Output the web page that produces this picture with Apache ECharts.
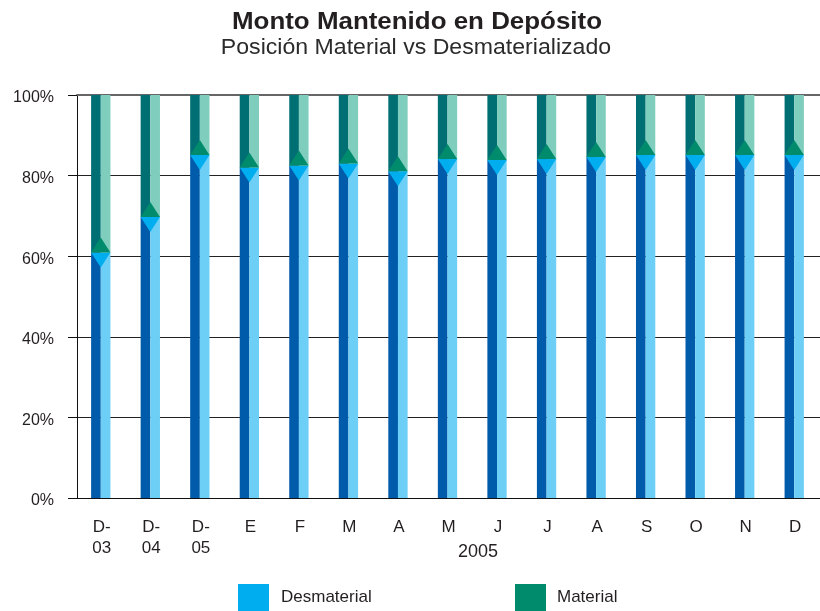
<!DOCTYPE html>
<html>
<head>
<meta charset="utf-8">
<script src="https://cdn.jsdelivr.net/npm/echarts@6/dist/echarts.min.js"></script>
<style>
 html,body{margin:0;padding:0;background:#fff;}
 #main{width:820px;height:611px;}
</style>
</head>
<body>
<div id="main"></div>
<script>
var categories = ['D-\n03', 'D-\n04', 'D-\n05', 'E', 'F', 'M', 'A', 'M', 'J', 'J', 'A', 'S', 'O', 'N', 'D'];
var desmaterial = [60.9, 69.7, 85.1, 82.0, 82.5, 83.0, 81.1, 84.1, 83.9, 84.1, 84.6, 85.1, 85.1, 85.1, 85.1];
var material = [39.1, 30.3, 14.9, 18.0, 17.5, 17.0, 18.9, 15.9, 16.1, 15.9, 15.4, 14.9, 14.9, 14.9, 14.9];
var yTicks = [0, 20, 40, 60, 80, 100];

var FONT = 'Liberation Sans, Arial, sans-serif';

// bloque 3D: mitad oscura, mitad clara y triangulo en la union
var makeRender = function (dark, light, tri, triUp) {
    return function (params, api) {
        var idx = api.value(0);
        var pLo = api.coord([idx, api.value(1)]);
        var pHi = api.coord([idx, api.value(2)]);
        var w = api.size([1, 0])[0] * 0.39;
        var cx = pLo[0] - 1;
        var h = 15;
        var yb = triUp ? pLo[1] : pHi[1];
        var tip = triUp ? yb - h : yb + h;
        return {
            type: 'group',
            children: [
                { type: 'rect', shape: { x: cx - w / 2, y: pHi[1], width: w / 2, height: pLo[1] - pHi[1] }, style: { fill: dark } },
                { type: 'rect', shape: { x: cx, y: pHi[1], width: w / 2, height: pLo[1] - pHi[1] }, style: { fill: light } },
                { type: 'polygon', shape: { points: [[cx - w / 2, yb], [cx + w / 2, yb], [cx, tip]] }, style: { fill: tri } }
            ]
        };
    };
};

var desmData = [], matData = [];
for (var i = 0; i < categories.length; i++) {
    desmData.push([i, 0, desmaterial[i]]);
    matData.push([i, desmaterial[i], desmaterial[i] + material[i]]);
}

option = {
    backgroundColor: '#fff',
    animation: false,
    legend: [
        {
            data: ['Desmaterial'], left: 238, top: 584, padding: 0, icon: 'rect', itemWidth: 31, itemHeight: 27,
            textStyle: { fontFamily: FONT, fontSize: 17, color: '#231f20', padding: [0, 0, 0, 7] }
        },
        {
            data: ['Material'], left: 515, top: 584, padding: 0, icon: 'rect', itemWidth: 31, itemHeight: 27,
            textStyle: { fontFamily: FONT, fontSize: 17, color: '#231f20', padding: [0, 0, 0, 6] }
        }
    ],
    grid: { left: 77, top: 95, width: 750, height: 403 },
    xAxis: [
        {
            type: 'category',
            data: categories,
            axisLine: { lineStyle: { color: '#111', width: 1 } },
            axisTick: { length: 7, lineStyle: { color: '#444' } },
            axisLabel: { fontFamily: FONT, fontSize: 17, lineHeight: 21, color: '#231f20', margin: 19, interval: 0 }
        },
        {
            type: 'category',
            data: categories,
            position: 'top',
            axisLine: { lineStyle: { color: '#666', width: 2 } },
            axisTick: { show: false },
            axisLabel: { show: false }
        }
    ],
    yAxis: {
        type: 'value',
        min: yTicks[0],
        max: yTicks[yTicks.length - 1],
        interval: 20,
        axisLine: { show: true, lineStyle: { color: '#111' } },
        axisTick: { show: true, length: 9, lineStyle: { color: '#111' } },
        axisLabel: { formatter: '{value}%', fontFamily: FONT, fontSize: 16, color: '#231f20', margin: 23, verticalAlign: 'top', padding: [-5, 0, 0, 0] },
        splitLine: { lineStyle: { color: '#222', width: 1 } }
    },
    graphic: [
        // titulos
        { type: 'text', x: 417, y: 22.5, scaleX: 1.08, style: { text: 'Monto Mantenido en Depósito', font: 'bold 24px ' + FONT, fill: '#231f20', align: 'center', verticalAlign: 'middle' } },
        { type: 'text', x: 416, y: 48, scaleX: 1.05, style: { text: 'Posición Material vs Desmaterializado', font: '22px ' + FONT, fill: '#2b2b2b', align: 'center', verticalAlign: 'middle' } },
        { type: 'text', left: 458, top: 543, style: { text: '2005', font: '18px ' + FONT, fill: '#231f20' } }
    ],
    series: [
        {
            name: 'Desmaterial',
            type: 'custom',
            renderItem: makeRender('#005baa', '#6dcff6', '#00aeef', false),
            itemStyle: { color: '#00aeef' },
            encode: { x: 0, y: [1, 2] },
            data: desmData
        },
        {
            name: 'Material',
            type: 'custom',
            renderItem: makeRender('#006f74', '#7fcdbd', '#008c6c', true),
            itemStyle: { color: '#008c6c' },
            encode: { x: 0, y: [1, 2] },
            data: matData
        }
    ]
};

var myChart = echarts.init(document.getElementById('main'));
myChart.setOption(option);
</script>
</body>
</html>
